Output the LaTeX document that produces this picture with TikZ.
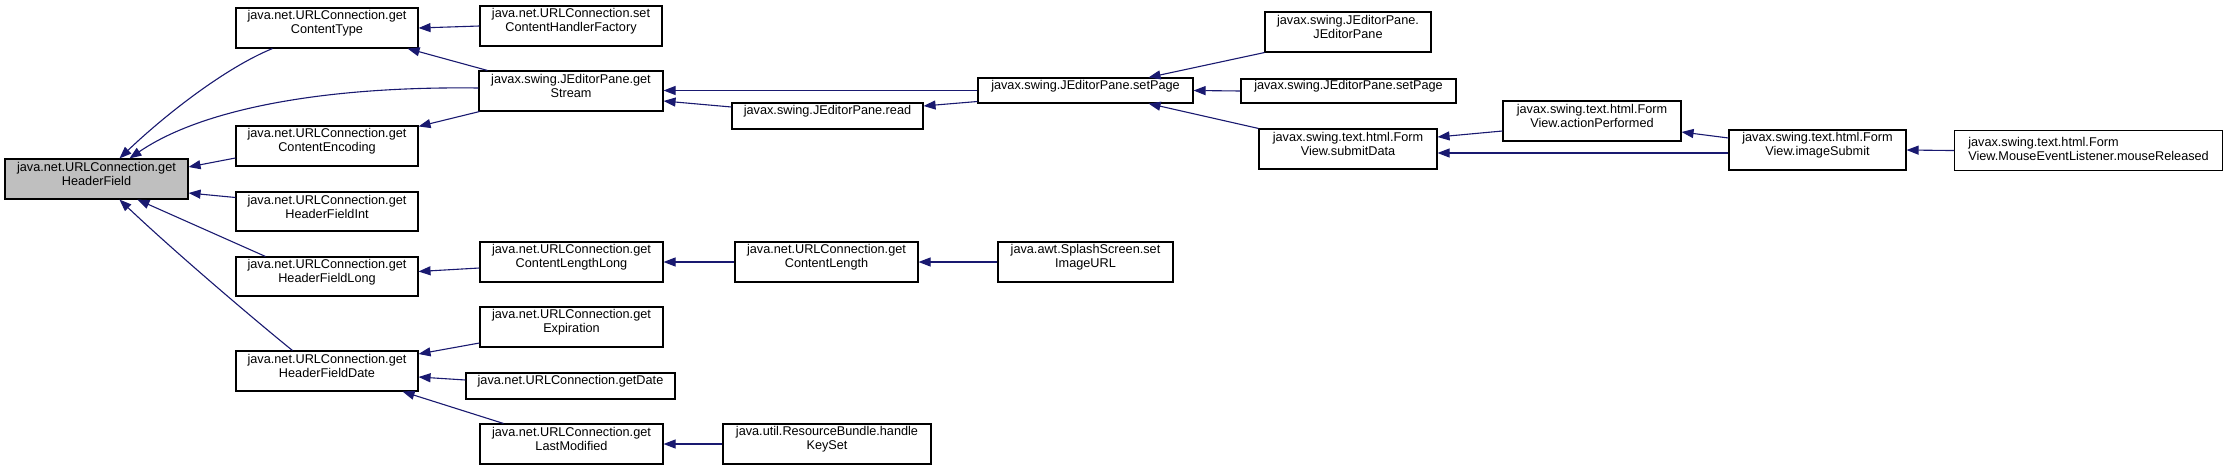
\documentclass[tikz,border=0pt]{standalone}
\usepackage{fontspec}
\setmainfont{Liberation Sans}
\usetikzlibrary{arrows.meta,calc,fit}
\definecolor{edgeblue}{RGB}{25,25,112}
\newcommand\nodefont{\fontsize{6.35pt}{7pt}\selectfont}
\begin{document}
\begin{tikzpicture}[x=0.5pt,y=-0.5pt,
  box/.style={draw=black, line width=0.55pt, fill=white, inner sep=0pt, align=center, font=\nodefont},
  mainbox/.style={box, fill=gray!50},
  callarrow/.style={draw=edgeblue, line width=0.55pt, -{Triangle[length=6pt,width=4.5pt]}}]
\fill[white] (0,0) rectangle (2228,471);
\useasboundingbox (0,0) rectangle (2228,471);

\node[mainbox, fit={(5,159)(188,199)}] (hf) {java.net.URLConnection.get\\HeaderField};
\node[box, fit={(236,8)(418,48)}] (ct) {java.net.URLConnection.get\\ContentType};
\node[box, fit={(480,6)(662,46)}] (chf) {java.net.URLConnection.set\\ContentHandlerFactory};
\node[box, fit={(479,71)(663,111)}] (gs) {javax.swing.JEditorPane.get\\Stream};
\node[box, fit={(236,126)(418,166)}] (ce) {java.net.URLConnection.get\\ContentEncoding};
\node[box, fit={(236,192)(418,231)}] (hfi) {java.net.URLConnection.get\\HeaderFieldInt};
\node[box, fit={(236,257)(418,296)}] (hfl) {java.net.URLConnection.get\\HeaderFieldLong};
\node[box, fit={(480,242)(663,282)}] (cll) {java.net.URLConnection.get\\ContentLengthLong};
\node[box, fit={(480,307)(663,347)}] (exp) {java.net.URLConnection.get\\Expiration};
\node[box, fit={(236,351)(418,391)}] (hfd) {java.net.URLConnection.get\\HeaderFieldDate};
\node[box, fit={(466,373)(675,399)}] (gd) {java.net.URLConnection.getDate};
\node[box, fit={(480,424)(663,464)}] (lm) {java.net.URLConnection.get\\LastModified};
\node[box, fit={(978,78)(1193,103)}] (sp) {javax.swing.JEditorPane.setPage};
\node[box, fit={(732,103)(923,129)}] (rd) {javax.swing.JEditorPane.read};
\node[box, fit={(1265,12)(1431,52)}] (jep) {javax.swing.JEditorPane.\\JEditorPane};
\node[box, fit={(1241,79)(1456,103)}] (sp2) {javax.swing.JEditorPane.setPage};
\node[box, fit={(1259,129)(1437,169)}] (sd) {javax.swing.text.html.Form\\View.submitData};
\node[box, fit={(735,242)(918,282)}] (cl) {java.net.URLConnection.get\\ContentLength};
\node[box, fit={(998,242)(1173,282)}] (ss) {java.awt.SplashScreen.set\\ImageURL};
\node[box, fit={(723,424)(931,464)}] (rb) {java.util.ResourceBundle.handle\\KeySet};
\node[box, fit={(1503,101)(1681,141)}] (ap) {javax.swing.text.html.Form\\View.actionPerformed};
\node[box, fit={(1729,130)(1906,170)}] (is) {javax.swing.text.html.Form\\View.imageSubmit};
\node[box, anchor=north west, minimum width=134pt, minimum height=20pt] (mr) at (1954,130)
  {\begin{tabular}{@{}l@{}}javax.swing.text.html.Form\\View.MouseEventListener.mouseReleased\end{tabular}};

\draw[callarrow] ($(ct.south west)+(37,0)$) .. controls (225,68) and (165,115) .. ($(hf.north west)+(115,0)$);
\draw[callarrow] ($(gs.west)+(0,-3)$) .. controls (320,86) and (200,110) .. ($(hf.north west)+(125,0)$);
\draw[callarrow] ($(ce.west)+(0,12)$) -- ($(hf.east)+(0,-12)$);
\draw[callarrow] ($(hfi.west)+(0,-14)$) -- ($(hf.east)+(0,14)$);
\draw[callarrow] ($(hfl.north west)+(30,0)$) -- ($(hf.south west)+(133,0)$);
\draw[callarrow] ($(hfd.north west)+(57,0)$) .. controls (262,326) and (178,255) .. ($(hf.south west)+(115,0)$);
\draw[callarrow] (chf.west) -- (ct.east);
\draw[callarrow] ($(gs.north west)+(9,0)$) -- ($(ct.south east)+(-11,0)$);
\draw[callarrow] ($(gs.south west)+(1,0)$) -- ($(ce.north east)+(0,1)$);
\draw[callarrow] ($(cll.west)+(0,6)$) -- ($(hfl.east)+(0,-5)$);
\draw[callarrow] ($(exp.west)+(0,16)$) -- ($(hfd.east)+(0,-17)$);
\draw[callarrow] ($(gd.west)+(0,-6)$) -- ($(hfd.east)+(0,6)$);
\draw[callarrow] ($(lm.north west)+(24,0)$) -- ($(hfd.south east)+(-16,0)$);
\draw[callarrow] (cl.west) -- (cll.east);
\draw[callarrow] (rb.west) -- (lm.east);
\draw[callarrow] (ss.west) -- (cl.east);
\draw[callarrow] (sp.west) -- (sp.west -| gs.east);
\draw[callarrow] ($(rd.west)+(0,-9)$) -- ($(gs.east)+(0,10)$);
\draw[callarrow] ($(sp.west)+(0,11)$) -- ($(rd.east)+(0,-10)$);
\draw[callarrow] (jep.south west) -- ($(sp.north east)+(-45,0)$);
\draw[callarrow] (sp2.west) -- (sp.east);
\draw[callarrow] (sd.north west) -- ($(sp.south east)+(-45,0)$);
\draw[callarrow] ($(ap.west)+(0,10)$) -- ($(sd.east)+(0,-12)$);
\draw[callarrow] ($(is.west)+(0,3)$) -- ($(sd.east)+(0,4)$);
\draw[callarrow] ($(is.west)+(0,-12)$) -- ($(ap.east)+(0,11)$);
\draw[callarrow] (mr.west) -- (is.east);
\end{tikzpicture}
\end{document}
